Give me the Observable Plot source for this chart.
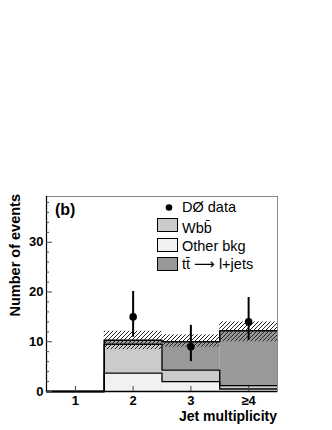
<!DOCTYPE html>
<html><head><meta charset="utf-8">
<script src="https://cdn.jsdelivr.net/npm/d3@7"></script>
<script src="https://cdn.jsdelivr.net/npm/@observablehq/plot@0.6"></script>
<style>body{margin:0;background:#fff;} svg{display:block;}</style>
</head><body><div id="chart"></div>
<script>
// ---- data ----
const categories = ["1", "2", "3", "≥4"];
const binCenters = [1, 2, 3, 4];
const binEdges = [0.5, 1.5, 2.5, 3.5, 4.5];
const otherBkg = [0, 3.7, 2.0, 0.5];
const wbb = [0, 5.8, 2.3, 0.7];
const ttbar = [0, 0.8, 5.7, 11.0];
const systLow = [0, 8.4, 8.9, 10.0];
const systHigh = [0, 12.1, 11.4, 14.0];
const dataBins = [2, 3, 4];
const dataValues = [15, 9, 14];
const dataErrLow = [10.9, 6.0, 10.3];
const dataErrHigh = [20.1, 13.3, 18.9];
const yMajorTicks = [0, 10, 20, 30];
const yMinorTicks = [2, 4, 6, 8, 12, 14, 16, 18, 22, 24, 26, 28, 32, 34, 36, 38];
const legendLabels = ["DØ data", "Wbb\u0304", "Other bkg", "tt\u0304 \u27F6 l+jets"];
const panelLabel = "(b)";
const xTitle = "Jet multiplicity";
const yTitle = "Number of events";

const colors = {tt: "#999999", wbb: "#cbcbcb", other: "#f1f1f1"};
const font = "'Liberation Sans', Arial, Helvetica, 'DejaVu Sans', sans-serif";

// ---- derived tables ----
const bins = binCenters.map((c, i) => ({
  x1: binEdges[i], x2: binEdges[i + 1],
  other: otherBkg[i],
  wbbTop: otherBkg[i] + wbb[i],
  total: otherBkg[i] + wbb[i] + ttbar[i],
  lo: systLow[i], hi: systHigh[i]
}));
function steps(key) {
  const pts = bins.map(b => ({x: b.x1, y: b[key]}));
  pts.push({x: bins[bins.length - 1].x2, y: bins[bins.length - 1][key]});
  return pts;
}
const points = dataBins.map((b, i) => ({x: b, y: dataValues[i], lo: dataErrLow[i], hi: dataErrHigh[i]}));
const syst = bins.filter(b => b.hi > 0);

const chart = Plot.plot({
  width: 332, height: 430,
  marginTop: 196, marginBottom: 39, marginLeft: 46, marginRight: 55,
  style: {fontFamily: font, background: "#fff"},
  x: {domain: [0.5, 4.5]},
  y: {domain: [0, 39.2]},
  marks: [
    Plot.rectY(bins, {x1: "x1", x2: "x2", y1: 0, y2: "total", fill: colors.tt}),
    Plot.rectY(bins, {x1: "x1", x2: "x2", y1: 0, y2: "wbbTop", fill: colors.wbb}),
    Plot.rectY(bins, {x1: "x1", x2: "x2", y1: 0, y2: "other", fill: colors.other}),
    Plot.line(steps("other"), {x: "x", y: "y", curve: "step-after", stroke: "#000", strokeWidth: 1.3}),
    Plot.line(steps("wbbTop"), {x: "x", y: "y", curve: "step-after", stroke: "#000", strokeWidth: 1.3}),
    Plot.line(steps("total"), {x: "x", y: "y", curve: "step-after", stroke: "#000", strokeWidth: 1.5}),
    Plot.rectY(syst, {x1: "x1", x2: "x2", y1: "lo", y2: "hi", fill: "url(#hatch)"}),
    Plot.ruleX(points, {x: "x", y1: "lo", y2: "hi", stroke: "#000", strokeWidth: 2}),
    Plot.dot(points, {x: "x", y: "y", r: 3.8, fill: "#000"}),
    Plot.frame({stroke: "#8a8a8a"}),
    Plot.ruleX([0.5], {stroke: "#000", strokeWidth: 1.2}),
    Plot.ruleY([0], {stroke: "#000", strokeWidth: 1.5}),
    Plot.axisY(yMajorTicks, {tickSize: 0, tickPadding: 3, fontWeight: "bold", fontSize: 13, label: null, fill: "#000"}),
    Plot.axisY(yMajorTicks, {tickSize: -6, text: null, label: null, stroke: "#444"}),
    Plot.axisY(yMinorTicks, {tickSize: -3, text: null, label: null, stroke: "#444"}),
    Plot.axisX(binCenters, {tickSize: 0, tickPadding: 4, tickFormat: d => categories[binCenters.indexOf(d)], fontWeight: "bold", fontSize: 13, label: null, fill: "#000"}),
    Plot.axisX(binCenters, {tickSize: -5, text: null, label: null, stroke: "#444"})
  ]
});

const svg = d3.select(chart);
const pat = svg.insert("defs", ":first-child")
  .append("pattern").attr("id", "hatch").attr("patternUnits", "userSpaceOnUse")
  .attr("width", 4).attr("height", 4);
pat.append("path").attr("d", "M-1,1 l2,-2 M0,4 l4,-4 M3,5 l2,-2")
  .attr("stroke", "#222").attr("stroke-width", 1);

const ann = svg.append("g").attr("font-family", font).attr("fill", "#000").attr("text-anchor", "start");
ann.append("text").attr("x", 55).attr("y", 215).attr("font-size", 16).attr("font-weight", "bold").text(panelLabel);
ann.append("text").attr("x", 277).attr("y", 421).attr("text-anchor", "end").attr("font-size", 14).attr("font-weight", "bold").text(xTitle);
ann.append("text").attr("transform", "translate(19.5,194) rotate(-90)").attr("text-anchor", "end")
  .attr("font-size", 14.5).attr("font-weight", "bold").text(yTitle);

// legend
const lg = svg.append("g").attr("font-family", font).attr("font-size", 14.5).attr("fill", "#000").attr("text-anchor", "start");
lg.append("circle").attr("cx", 169).attr("cy", 207.5).attr("r", 3.3).attr("fill", "#000");
const swatches = [colors.wbb, colors.other, colors.tt];
const boxTops = [218, 238, 257];
swatches.forEach((c, i) => {
  lg.append("rect").attr("x", 157.5).attr("y", boxTops[i] + 0.5).attr("width", 20).attr("height", 13)
    .attr("fill", c).attr("stroke", "#000").attr("stroke-width", 1);
});
const baselines = [212, 232.5, 251, 269];
legendLabels.forEach((t, i) => {
  lg.append("text").attr("x", 182).attr("y", baselines[i]).text(t);
});

document.getElementById("chart").appendChild(chart);
</script>
</body></html>
